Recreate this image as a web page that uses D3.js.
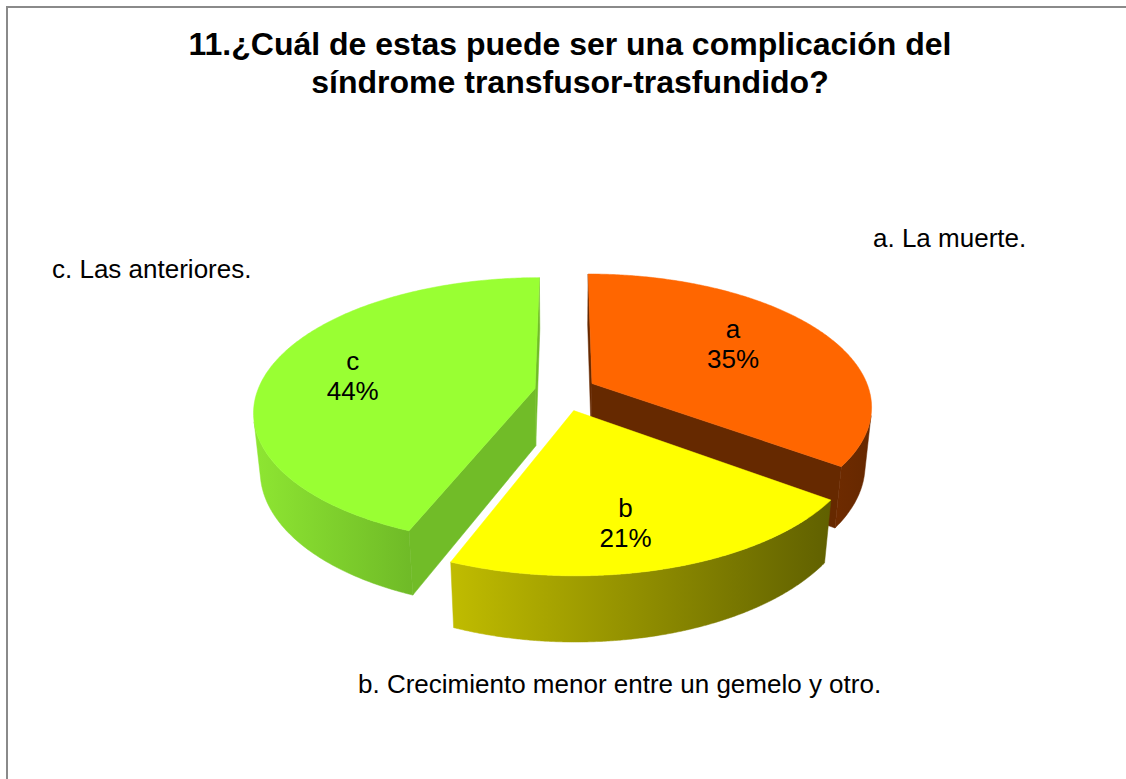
<!DOCTYPE html>
<html><head><meta charset="utf-8">
<script src="https://cdn.jsdelivr.net/npm/d3@7"></script>
<style>body{margin:0;background:#fff} svg{display:block}</style>
</head><body>
<svg id="chart" width="1126" height="779"></svg>
<script>
// ---- data ----
const categories = ["a", "b", "c"];
const values = [35, 21, 44];
const legendLabels = ["a. La muerte.", "b. Crecimiento menor entre un gemelo y otro.", "c. Las anteriores."];
const titleLines = ["11.¿Cuál de estas puede ser una complicación del", "síndrome transfusor-trasfundido?"];

// ---- styles ----
const topColors = ["#FF6600", "#FFFF00", "#99FF33"];
const sideLeftColors = ["#6E2B00", "#C0BC00", "#8EE632"];
const sideRightColors = ["#662800", "#606000", "#6FBA27"];
const cutColors = ["#662900", "#8a8a00", "#71BC28"];
const font = "'Liberation Sans', Arial, sans-serif";

const W = 1126, H = 779;
const svg = d3.select("#chart");
svg.append("rect").attr("x", 7).attr("y", 7).attr("width", W).attr("height", H)
  .attr("fill", "#fff").attr("stroke", "#8a8a8a").attr("stroke-width", 2);

// title
svg.append("text").attr("text-anchor", "middle").attr("font-family", font)
  .attr("font-weight", "bold").attr("font-size", 32).attr("fill", "#000")
  .selectAll("tspan").data(titleLines).join("tspan")
  .attr("x", 570).attr("y", (d, i) => 55 + i * 38).text(d => d);

// ---- 3D projection ----
const cam = {cx: 565, cy: 392, S: 278, phi: 28 * Math.PI / 180, k: 0.19, t: 0.24, ex: 0.11, ey: 0.145};
const D = 1 / cam.k;
const sp = Math.sin(cam.phi), cp = Math.cos(cam.phi);
function project(u, v, h) {
  const yc = v * sp + h * cp;
  const z = D + v * cp - h * sp;
  const s = cam.S * D / z;
  return [cam.cx + u * s, cam.cy - yc * s];
}
const camPos = [0, -D * cp, D * sp];

const arcs = d3.pie().sort(null).value(d => d)(values);
arcs.forEach((a, i) => {
  const m = (a.startAngle + a.endAngle) / 2;
  a.mid = m;
  a.ou = cam.ex * Math.sin(m);
  a.ov = cam.ey * Math.cos(m);
  a.i = i;
});
const order = arcs.slice().sort((p, q) => q.ov - p.ov);

const line = d3.line();
const defs = svg.append("defs");
const gPie = svg.append("g");

order.forEach(a => {
  const i = a.i, t = cam.t;
  const P = (th, h) => project(a.ou + Math.sin(th), a.ov + Math.cos(th), h);
  const C = h => project(a.ou, a.ov, h);
  const g = gPie.append("g");
  const visible = (nu, nv, pu, pv) => nu * (camPos[0] - pu) + nv * (camPos[1] - pv) > 0;

  // radial cut faces
  const th1 = a.startAngle, th2 = a.endAngle;
  [[th1, -Math.cos(th1), Math.sin(th1)], [th2, Math.cos(th2), -Math.sin(th2)]].forEach(([th, nu, nv]) => {
    if (visible(nu, nv, a.ou, a.ov)) {
      g.append("path").attr("d", line([C(0), P(th, 0), P(th, -t), C(-t)]) + "Z")
        .attr("fill", cutColors[i]).attr("stroke", cutColors[i]).attr("stroke-width", 0.5);
    }
  });

  // outer side
  const N = 240;
  let run = [];
  const runs = [];
  for (let j = 0; j <= N; j++) {
    const th = th1 + (th2 - th1) * j / N;
    const su = Math.sin(th), sv = Math.cos(th);
    if (visible(su, sv, a.ou + su, a.ov + sv)) run.push(th);
    else if (run.length) { runs.push(run); run = []; }
  }
  if (run.length) runs.push(run);
  runs.forEach((r, ri) => {
    if (r.length < 2) return;
    const pts = r.map(th => P(th, 0)).concat(r.slice().reverse().map(th => P(th, -t)));
    const xs = pts.map(p => p[0]);
    const id = "side" + i + "_" + ri;
    const gr = defs.append("linearGradient").attr("id", id).attr("gradientUnits", "userSpaceOnUse")
      .attr("x1", d3.min(xs)).attr("x2", d3.max(xs)).attr("y1", 0).attr("y2", 0);
    gr.append("stop").attr("offset", 0).attr("stop-color", sideLeftColors[i]);
    gr.append("stop").attr("offset", 1).attr("stop-color", sideRightColors[i]);
    g.append("path").attr("d", line(pts) + "Z").attr("fill", `url(#${id})`)
      .attr("stroke", `url(#${id})`).attr("stroke-width", 0.5);
  });

  // top face
  const topPts = [C(0)];
  for (let j = 0; j <= N; j++) topPts.push(P(th1 + (th2 - th1) * j / N, 0));
  g.append("path").attr("d", line(topPts) + "Z").attr("fill", topColors[i])
    .attr("stroke", topColors[i]).attr("stroke-width", 0.5);
});

// inner data labels (anchored at projected mid-angle point, with per-label nudge)
const total = d3.sum(values);
const labelR = 0.63;
const labelNudge = [[-5, -5], [-5, 20], [-15, 3]];
const gLab = svg.append("g").attr("font-family", font).attr("font-size", 26)
  .attr("fill", "#000").attr("text-anchor", "middle");
arcs.forEach(a => {
  const p = project(a.ou + labelR * Math.sin(a.mid), a.ov + labelR * Math.cos(a.mid), 0);
  const x = p[0] + labelNudge[a.i][0], y = p[1] + labelNudge[a.i][1];
  const txt = gLab.append("text");
  txt.append("tspan").attr("x", x).attr("y", y - 6).text(categories[a.i]);
  txt.append("tspan").attr("x", x).attr("y", y + 24)
    .text(Math.round(a.value / total * 100) + "%");
});

// outer category labels
const outerPos = [[873, 247], [358, 693], [52, 278]];
const gOut = svg.append("g").attr("font-family", font).attr("font-size", 26).attr("fill", "#000");
legendLabels.forEach((s, i) => {
  gOut.append("text").attr("x", outerPos[i][0]).attr("y", outerPos[i][1]).text(s);
});
</script>
</body></html>
